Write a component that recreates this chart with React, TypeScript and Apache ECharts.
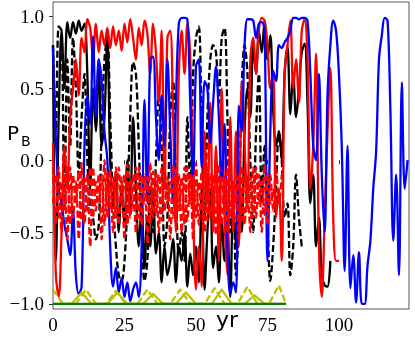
import React, { useEffect, useRef } from 'react';
import * as echarts from 'echarts';

// yearly samples starting at t = 0
const blueValues = [
  0.78, 0.15, -0.2, -0.3, -0.45, -0.55, -0.66, -0.35, -0.8, -0.93,
  -0.88, 0.1, 0.45, 0.25, 0.86, 0.3, 0.7, 0.55, 0.2, 0.0,
  -0.6, -0.88, -0.75, -0.92, -0.82, -0.95, -0.85, -0.98, -0.9, -0.85,
  -0.95, -0.6, 0.42, -0.3, 0.7, 0.72, 0.3, 0.0, 0.45, 0.1,
  0.7, 0.2, -0.3, 0.4, 0.95, 0.99, 0.99, 0.98, 0.4, -0.15,
  0.65, 0.7, -0.05, 0.55, 0.5, 0.12, 0.4, 0.65, 0.3, -0.15,
  0.25, -0.6, -0.93, -0.85, -0.92, 0.38, 0.2, 0.8, 0.98, 0.98,
  0.97, 0.85, 0.95, 0.96, 0.9, -0.7, 0.2, 0.62, 0.55, 0.8,
  0.78, 0.82, 0.85, 0.9, 0.99, 0.99, 0.98, 0.99, 0.99, 0.97,
  0.6, 0.1, 0.0, 0.6, -0.1, -0.5, 0.45, 0.8, 0.97, 0.9,
  0.6, 0.09, -0.77, 0.1, -0.89, -0.66, -0.99, -0.64, -1.0, -1.0,
  -0.73, -0.56, -0.2, 0.06, 0.7, 0.87, 0.99, 0.97, 0.34, -0.56,
  -0.1, -0.8, 0.54, -0.2, 0.0,
];

const redValues = [
  0.12, -0.8, -0.95, -0.5, 0.1, -0.2, 0.3, 0.5, 0.7, 0.45,
  0.85, 0.75, 0.98, 0.92, 0.7, 0.95, 0.75, 0.9, 0.8, 0.92,
  0.78, 0.93, 0.8, 0.9, 0.76, 0.95, 0.82, 0.98, 0.85, 0.7,
  0.92, 0.8, 0.97, 0.88, 0.6, 0.95, 0.75, 0.4, 0.9, -0.2,
  0.85, 0.9, 0.3, -0.5, 0.6, 0.9, 0.6, 0.95, 0.7, -0.3,
  -0.9, -0.6, -0.88, 0.2, -0.3, 0.4, -0.5, 0.1, -0.7, 0.5,
  -0.4, -0.8, 0.3, -0.5, 0.2, -0.6, 0.55, 0.1, -0.3, 0.7,
  0.85, 0.6, 0.9, 0.99, 0.97, 0.8, 0.5, 0.6, -0.4, -0.2,
  -0.7, 0.6, 0.8, 0.97, 0.5, 0.7, 0.4, 0.9, 0.98, 0.7,
  -0.2, 0.1, 0.74, -0.6, -0.95, -0.4, 0.2, 0.64, -0.4, -0.7,
  -0.7,
];

const blackValues = [
  0.8, -0.7, 0.3, 0.9, 0.5, 0.96, 0.85, 0.96, 0.88, 0.97,
  0.9, 0.95, 0.6, -0.2, 0.5, 0.2, 0.7, 0.1, 0.3, 0.85,
  0.0, -0.3, -0.1, -0.5, -0.2, -0.45, 0.0, -0.35, 0.3, -0.2,
  -0.6, -0.3, -0.75, -0.4, -0.6, -0.2, -0.65, -0.5, -0.85, -0.6,
  -0.8, -0.7, -0.55, -0.85, -0.6, -0.7, -0.5, -0.88, -0.65, -0.8,
  -0.6, -0.85, -0.2, -0.9, -0.5, -0.2, -0.75, -0.6, -0.85, -0.4,
  -0.7, -0.5, -0.95, -0.3, -0.6, 0.0, -0.5, 0.2, 0.5, 0.3,
  0.8, 0.6, 0.9, 0.75, 0.97, 0.7, 0.87, 0.35, 0.1, 0.2,
  0.0, 0.6, 0.79, 0.32, 0.6, 0.3, 0.5, 0.75, 0.81, 0.4,
  -0.3, -0.1, -0.6, -0.4, -0.8, -0.87, -0.88, -0.7,
];

const blackDashValues = [
  0.8, 0.2, 0.93, 0.9, -0.3, 0.7, 0.1, 0.85, 0.5, -0.1,
  0.3, 0.6, 0.0, -0.3, -0.4, -0.55, -0.45, 0.2, 0.7, 0.86,
  0.3, -0.3, -0.6, -0.8, -0.84, -0.7, -0.3, 0.3, 0.68, 0.6,
  0.1, -0.5, -0.84, -0.7, -0.2, -0.5, 0.0, 0.45, 0.1, -0.6,
  -0.4, 0.3, 0.55, -0.2, -0.65, -0.5, -0.7, 0.3, -0.2, 0.6,
  0.85, 0.93, 0.2, -0.4, 0.3, 0.7, 0.8, 0.75, 0.4, 0.85,
  0.92, 0.3, -0.5, -0.2, -0.8, -0.4, 0.5, 0.8, 0.6, 0.0,
  -0.5, 0.2, 0.6, -0.3, 0.1, -0.4, -0.84, -0.6, -0.2, 0.2,
  0.0, -0.4, -0.3, -0.8, -0.6, -0.1, -0.4, -0.6,
];

const redDashAValues = [
  -0.05, -0.45, -0.05, -0.5, -0.1, -0.55, -0.05, -0.4, -0.15, -0.55,
  -0.02, -0.45, -0.1, -0.6, -0.05, -0.35, -0.1, -0.55, 0.0, -0.4,
  -0.08, -0.5, -0.05, -0.45, -0.12, -0.55, -0.03, -0.4, -0.1, -0.5,
  -0.05, -0.45, -0.1, -0.58, -0.02, -0.4, -0.08, -0.5, -0.05, -0.35,
  -0.12, -0.55, -0.03, -0.45, -0.1, -0.5, -0.05, -0.42, -0.1, -0.55,
  -0.02, -0.45, -0.08, -0.5, -0.05, -0.4, -0.1, -0.52, -0.03, -0.45,
  -0.1, -0.5, -0.05, -0.4, -0.12, -0.55, -0.04, -0.45, -0.1, -0.5,
  -0.05, -0.4, -0.1, -0.5, -0.03, -0.45, -0.1, -0.35, -0.05, -0.3,
  -0.1,
];

const redDashBValues = [
  -0.3, -0.1, -0.4, -0.15, -0.35, -0.05, -0.45, -0.1, -0.3, -0.08,
  -0.42, -0.12, -0.35, -0.05, -0.4, -0.15, -0.3, -0.1, -0.45, -0.08,
  -0.35, -0.12, -0.4, -0.05, -0.3, -0.1, -0.45, -0.15, -0.35, -0.05,
  -0.4, -0.1, -0.3, -0.12, -0.45, -0.08, -0.38, -0.1, -0.42, -0.05,
  -0.3, -0.15, -0.4, -0.08, -0.35, -0.12, -0.45, -0.05, -0.3, -0.1,
  -0.4, -0.15, -0.35, -0.05, -0.42, -0.1, -0.3, -0.08, -0.45, -0.12,
  -0.35, -0.05, -0.4, -0.15, -0.3, -0.1, -0.42, -0.08, -0.35, -0.12,
  -0.4, -0.05, -0.3, -0.15, -0.38, -0.1, -0.3, -0.2, -0.35,
];

// olive triangles: corner times and values
const oliveDashTimes = [0, 3.5, 8, 11.5, 15, 18.5, 22, 25.5, 29.5, 33, 36.5, 41, 44.5, 48, 53, 56.5, 60, 64.5, 68, 71.5, 75.5, 79, 81.5];
const oliveDashValues = [-0.9, -1.0, -1.0, -0.9, -1.0, -1.0, -0.91, -1.0, -1.0, -0.9, -1.0, -1.0, -0.9, -1.0, -1.0, -0.89, -1.0, -1.0, -0.88, -1.0, -1.0, -0.87, -1.0];
const oliveSolidTimes = [0, 6.5, 10, 13.5, 19, 22.5, 26, 31.5, 35, 38.5, 43, 46.5, 50, 55.5, 59, 62.5, 67, 70.5, 74, 81.5];
const oliveSolidValues = [-1.0, -1.0, -0.92, -1.0, -1.0, -0.92, -1.0, -1.0, -0.93, -1.0, -1.0, -0.92, -1.0, -1.0, -0.9, -1.0, -1.0, -0.94, -1.0, -1.0];
const greenTimes = [0, 81.5];
const greenValues = [-1.0, -1.0];

const xTicks = [0, 25, 50, 75, 100];
const yTicks = [-1, -0.5, 0, 0.5, 1];

const yearly = (vals: number[]) => vals.map((v, i) => [i, v]);
const paired = (ts: number[], vs: number[]) => ts.map((t, i) => [t, vs[i]]);

const line = (data: number[][], color: string, dashed = false, z = 2, smooth: number | boolean = 0.35) => ({
  type: 'line',
  data,
  showSymbol: false,
  symbol: 'none',
  smooth,
  z,
  lineStyle: { color, width: 2.3, type: dashed ? [7, 3] : 'solid', join: 'round', cap: 'butt' },
  emphasis: { disabled: true },
});

const tickFont = '"Liberation Serif", "Times New Roman", serif';

export default function App() {
  const ref = useRef<HTMLDivElement>(null);
  useEffect(() => {
    const chart = echarts.init(ref.current!, null, { renderer: 'svg' });
    chart.setOption({
      animation: false,
      grid: { left: 53, right: 6, top: 2, bottom: 37, show: true, borderColor: '#555', borderWidth: 1 },
      xAxis: {
        type: 'value', min: 0, max: 124.5,
        axisLine: { show: false },
        splitLine: { show: false },
        axisTick: { show: true, length: 4, customValues: xTicks, lineStyle: { color: '#333' } },
        axisLabel: { customValues: xTicks, fontFamily: tickFont, fontSize: 19, color: '#000', margin: 6 },
      },
      yAxis: {
        type: 'value', min: -1.035, max: 1.1,
        axisLine: { show: false },
        splitLine: { show: false },
        axisTick: { show: true, length: 4, customValues: yTicks, lineStyle: { color: '#333' } },
        axisLabel: {
          customValues: yTicks, fontFamily: tickFont, fontSize: 19, color: '#000', margin: 9,
          formatter: (v: number) => v.toFixed(1).replace('-', '\u2212'),
        },
      },
      graphic: [
        { type: 'text', x: 7, y: 133, style: { text: 'P', font: '20px "DejaVu Sans"', fill: '#000', verticalAlign: 'middle' } },
        { type: 'text', x: 21, y: 141, style: { text: 'B', font: '14px "DejaVu Sans"', fill: '#000', verticalAlign: 'middle' } },
        { type: 'text', x: 216, y: 319, style: { text: 'yr', font: '22px "DejaVu Sans"', fill: '#000', verticalAlign: 'middle' } },
      ],
      series: [
        line(yearly(blackValues), '#000000', false, 2),
        line(yearly(blackDashValues), '#000000', true, 3),
        line(yearly(redValues), '#ff0000', false, 4),
        line(yearly(blueValues), '#0000ff', false, 5),
        line(yearly(redDashAValues), '#ff0000', true, 6),
        line(yearly(redDashBValues), '#ff0000', true, 6),
        line(paired(oliveDashTimes, oliveDashValues), '#bfbf00', true, 7, false),
        line(paired(oliveSolidTimes, oliveSolidValues), '#bfbf00', false, 7, false),
        line(paired(greenTimes, greenValues), '#008000', false, 8, false),
      ],
    });
    return () => chart.dispose();
  }, []);
  return <div ref={ref} style={{ position: 'fixed', left: 0, top: 0, width: 415, height: 346 }} />;
}
